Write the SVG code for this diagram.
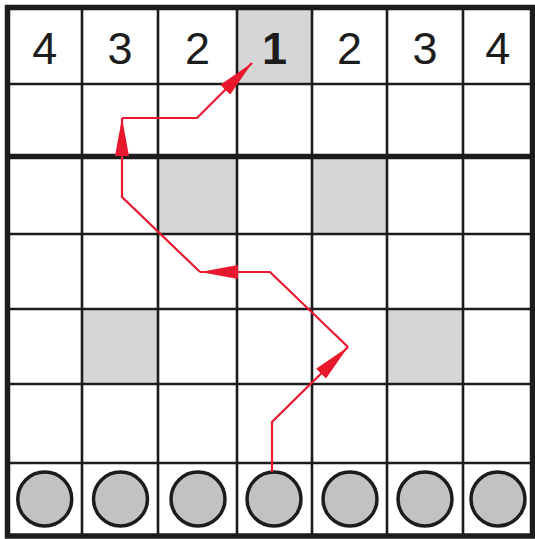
<svg xmlns="http://www.w3.org/2000/svg" width="535" height="539" viewBox="0 0 535 539">
  <style>
    .shade { fill: #d6d6d6; }
    .grid { stroke: #1c1c1c; fill: none; }
    .thin { stroke-width: 2.6; }
    .thick { stroke-width: 5.5; }
    .num { font-family: "Liberation Sans", Arial, sans-serif; font-size: 45px; fill: #1c1c1c; text-anchor: middle; }
    .bold { font-weight: bold; }
    .piece { fill: #c2c2c2; stroke: #1c1c1c; stroke-width: 3.5; }
    .route { fill: none; stroke: #e8192c; stroke-width: 2.2; stroke-linejoin: miter; }
  </style>
  <defs>
    <marker id="arrow" viewBox="0 0 38 14" refX="38" refY="7" markerWidth="38" markerHeight="14" markerUnits="userSpaceOnUse" orient="auto">
      <path d="M0,0 L38,7 L0,14 z" fill="#e8192c"/>
    </marker>
  </defs>
  <rect x="0" y="0" width="535" height="539" fill="#ffffff"/>

  <g id="shaded-cells">
    <rect class="shade" x="237" y="7.5" width="75" height="76.5"/>
    <rect class="shade" x="158" y="157" width="79" height="77"/>
    <rect class="shade" x="312" y="157" width="75" height="77"/>
    <rect class="shade" x="82" y="309" width="76" height="75"/>
    <rect class="shade" x="387" y="309" width="76" height="75"/>
  </g>

  <g id="grid">
    <g class="grid thin">
      <line x1="82" y1="7.5" x2="82" y2="536"/>
      <line x1="158" y1="7.5" x2="158" y2="536"/>
      <line x1="237" y1="7.5" x2="237" y2="536"/>
      <line x1="312" y1="7.5" x2="312" y2="536"/>
      <line x1="387" y1="7.5" x2="387" y2="536"/>
      <line x1="463" y1="7.5" x2="463" y2="536"/>
      <line x1="7.5" y1="84" x2="532.5" y2="84"/>
      <line x1="7.5" y1="234" x2="532.5" y2="234"/>
      <line x1="7.5" y1="309" x2="532.5" y2="309"/>
      <line x1="7.5" y1="384" x2="532.5" y2="384"/>
      <line x1="7.5" y1="463" x2="532.5" y2="463"/>
    </g>
    <g class="grid thick">
      <line x1="7.5" y1="156.5" x2="532.5" y2="156.5"/>
      <rect x="7.5" y="7.5" width="525" height="528.5"/>
    </g>
  </g>

  <g id="numbers">
    <text class="num" x="44.75" y="64">4</text>
    <text class="num" x="120" y="64">3</text>
    <text class="num" x="197.5" y="64">2</text>
    <text class="num bold" x="274.5" y="64">1</text>
    <text class="num" x="349.5" y="64">2</text>
    <text class="num" x="425" y="64">3</text>
    <text class="num" x="497.75" y="64">4</text>
  </g>

  <g id="pieces">
    <circle id="piece-1" class="piece" cx="44.75" cy="499" r="27"/>
    <circle id="piece-2" class="piece" cx="120.5" cy="499" r="27"/>
    <circle id="piece-3" class="piece" cx="198" cy="499" r="27"/>
    <circle id="piece-4" class="piece" cx="274" cy="499" r="27"/>
    <circle id="piece-5" class="piece" cx="350" cy="499" r="27"/>
    <circle id="piece-6" class="piece" cx="425" cy="499" r="27"/>
    <circle id="piece-7" class="piece" cx="498" cy="499" r="27"/>
  </g>

  <g id="connectors">
    <polyline class="route" points="272,472 272,422 348,347" marker-end="url(#arrow)"/>
    <polyline class="route" points="348,347 270,272 200,272" marker-end="url(#arrow)"/>
    <polyline class="route" points="200,272 122,197 122,118" marker-end="url(#arrow)"/>
    <polyline class="route" points="122,118 197,118 252,63" marker-end="url(#arrow)"/>
  </g>
</svg>
